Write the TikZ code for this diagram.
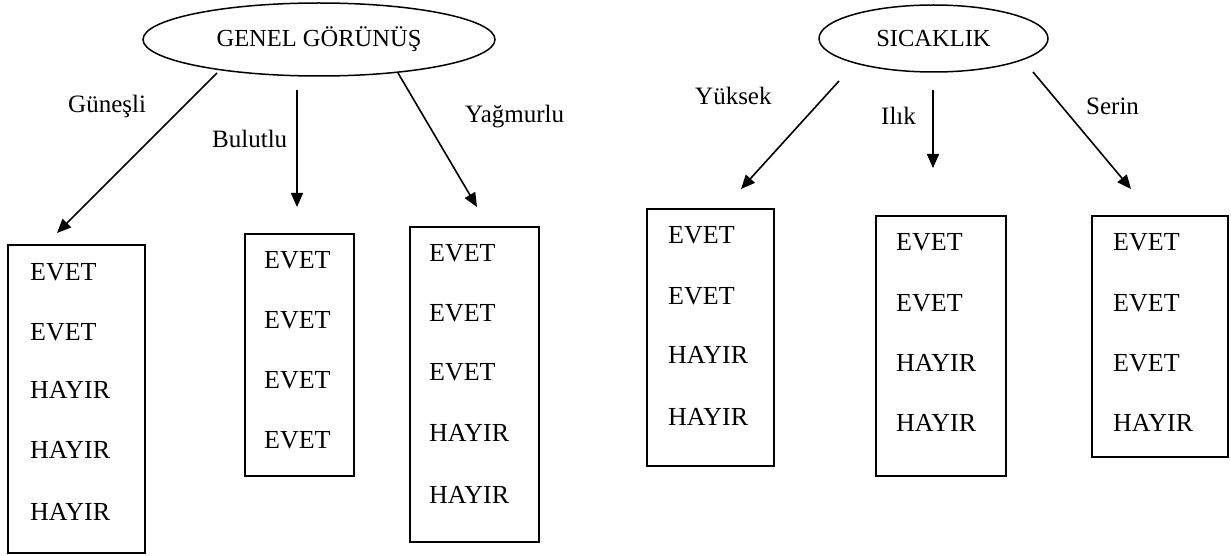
\documentclass[tikz,border=0pt]{standalone}
\usepackage{fontspec}
\setmainfont{Liberation Serif}
\usetikzlibrary{shapes.geometric,arrows.meta}
\begin{document}
\begin{tikzpicture}[x=1pt,y=-1pt,
  oval/.style={draw,ellipse,line width=1.5pt,inner sep=0pt,font=\fontsize{24.5}{29}\selectfont},
  boxnode/.style={draw,line width=1.5pt,inner sep=0pt},
  conn/.style={line width=1.6pt,-{Triangle[length=14pt,width=12pt]}},
  lbl/.style={anchor=base west,inner sep=0pt,font=\fontsize{25}{30}\selectfont},
  entry/.style={anchor=base west,inner sep=0pt,font=\fontsize{26}{31}\selectfont}]
\fill[white] (0,0) rectangle (1231,556);
\useasboundingbox (0,0) rectangle (1231,556);

% ellipses
\node[oval,minimum width=352pt,minimum height=73pt] (e1) at (319,39.5) {GENEL GÖRÜNÜŞ};
\node[oval,minimum width=229pt,minimum height=67pt] (e2) at (933.5,38.5) {SICAKLIK};

% boxes
\node[boxnode,minimum width=137pt,minimum height=308pt] (b1) at (76.5,399) {};
\node[boxnode,minimum width=109pt,minimum height=242pt] (b2) at (299.5,355) {};
\node[boxnode,minimum width=129pt,minimum height=315pt] (b3) at (474.5,384.5) {};
\node[boxnode,minimum width=127pt,minimum height=257pt] (b4) at (710.5,337.5) {};
\node[boxnode,minimum width=130pt,minimum height=260pt] (b5) at (941,346) {};
\node[boxnode,minimum width=136pt,minimum height=241pt] (b6) at (1160,336.5) {};

% arrow ends
\coordinate (s1) at (217,73);  \coordinate (t1) at (57,233);
\coordinate (s2) at (297,90);  \coordinate (t2) at (297,207);
\coordinate (s3) at (398,73);  \coordinate (t3) at (477,207);
\coordinate (s4) at (839,81);  \coordinate (t4) at (741,189);
\coordinate (s5) at (933,90);  \coordinate (t5) at (933,168);
\coordinate (s6) at (1033,72); \coordinate (t6) at (1131,189);
\draw[conn] (s1) -- (t1);
\draw[conn] (s2) -- (t2);
\draw[conn] (s3) -- (t3);
\draw[conn] (s4) -- (t4);
\draw[conn] (s5) -- (t5);
\draw[conn] (s6) -- (t6);

% branch labels
\node[lbl] (l1) at (68,113) {Güneşli};
\node[lbl] (l2) at (212,148) {Bulutlu};
\node[lbl] (l3) at (465,123) {Yağmurlu};
\node[lbl] (l4) at (695,105) {Yüksek};
\node[lbl] (l5) at (881,125) {Ilık};
\node[lbl] (l6) at (1086,115) {Serin};

% box entries
\node[entry] (b1a) at (30,280) {EVET};
\node[entry] (b1b) at (30,340) {EVET};
\node[entry] (b1c) at (30,398) {HAYIR};
\node[entry] (b1d) at (30,458) {HAYIR};
\node[entry] (b1e) at (30,520) {HAYIR};

\node[entry] (b2a) at (264,268) {EVET};
\node[entry] (b2b) at (264,328) {EVET};
\node[entry] (b2c) at (264,388) {EVET};
\node[entry] (b2d) at (264,448) {EVET};

\node[entry] (b3a) at (429,261) {EVET};
\node[entry] (b3b) at (429,321) {EVET};
\node[entry] (b3c) at (429,380) {EVET};
\node[entry] (b3d) at (429,441) {HAYIR};
\node[entry] (b3e) at (429,503) {HAYIR};

\node[entry] (b4a) at (668,243) {EVET};
\node[entry] (b4b) at (668,304) {EVET};
\node[entry] (b4c) at (668,363) {HAYIR};
\node[entry] (b4d) at (668,425) {HAYIR};

\node[entry] (b5a) at (896,251) {EVET};
\node[entry] (b5b) at (896,311) {EVET};
\node[entry] (b5c) at (896,371) {HAYIR};
\node[entry] (b5d) at (896,431) {HAYIR};

\node[entry] (b6a) at (1113,251) {EVET};
\node[entry] (b6b) at (1113,311) {EVET};
\node[entry] (b6c) at (1113,371) {EVET};
\node[entry] (b6d) at (1113,431) {HAYIR};
\end{tikzpicture}
\end{document}
